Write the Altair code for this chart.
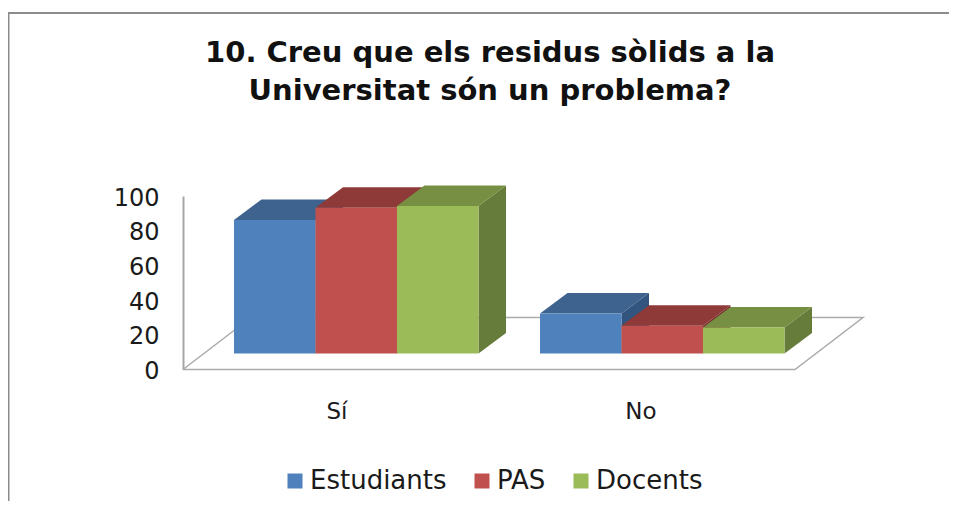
import altair as alt
import pandas as pd

# ---- values ----
categories = ["Sí", "No"]
series = ["Estudiants", "PAS", "Docents"]
estudiants = [77, 23]
pas = [84, 16]
docents = [85, 15]
title_lines = ["10. Creu que els residus sòlids a la", "Universitat són un problema?"]
tick_values = [0, 20, 40, 60, 80, 100]

front_colors = ["#4F81BD", "#C0504D", "#9BBB59"]
top_colors = ["#3E638F", "#8E3A38", "#768F43"]
side_colors = ["#32557F", "#7A2F2D", "#667C3A"]

# ---- 3-D projection in scale units (1 x unit = one bar width) ----
PX_X = 81.5              # plot pixels per x unit
PX_Y = 1.735             # plot pixels per value unit
BASE = 16 / PX_Y         # floor offset of the bars' front edge
DX = 27.5 / PX_X         # depth of bars
DY = 20.5 / PX_Y
GROUP_START = [51 / PX_X, 357 / PX_X]
LABEL_X = [154 / PX_X, 458 / PX_X]
FLOOR_DX = 68 / PX_X
FLOOR_DY = 52 / PX_Y
FLOOR_W = 612 / PX_X

rows = []
values = [estudiants, pas, docents]
face = 0
def poly(pts, fill):
    global face
    face += 1
    for x, y, y2 in pts:
        rows.append({"face": face, "x": x, "y": y, "y2": y2, "fill": fill})

for c in range(len(categories)):
    for s in range(len(series)):
        x0 = GROUP_START[c] + s
        x1 = x0 + 1
        b = BASE
        t = BASE + values[s][c]
        # side
        poly([(x1, b, t), (x1 + DX, b + DY, t + DY)], side_colors[s])
        # top
        poly([(x0, t, t), (x0 + DX, t + DY, t), (x1, t + DY, t), (x1 + DX, t + DY, t + DY)], top_colors[s])
        # front
        poly([(x0, b, t), (x1, b, t)], front_colors[s])
faces = pd.DataFrame(rows)

floor = pd.DataFrame([
    {"p": 0, "x": 0, "y": 0},
    {"p": 1, "x": FLOOR_W, "y": 0},
    {"p": 2, "x": FLOOR_W + FLOOR_DX, "y": FLOOR_DY},
    {"p": 3, "x": FLOOR_DX, "y": FLOOR_DY},
    {"p": 4, "x": 0, "y": 0},
])

x_scale = alt.Scale(domain=[0, 680 / PX_X], nice=False, zero=False)
y_scale = alt.Scale(domain=[0, 100], nice=False, zero=False)
FONT = "DejaVu Sans"
y_axis = alt.Axis(
    values=tick_values, title=None, grid=False, ticks=False, domainColor="#A6A6A6",
    domainWidth=2, labelFont=FONT, labelFontSize=24, labelColor="#1A1A1A", labelPadding=24,
    labelOffset=2, labelOverlap=False, labelBound=False, labelFlush=False)

floor_layer = alt.Chart(floor).mark_line(color="#ABABAB", strokeWidth=1.5, clip=False).encode(
    x=alt.X("x:Q", scale=x_scale, axis=None),
    y=alt.Y("y:Q", scale=y_scale, axis=y_axis),
    order="p:Q",
)

face_layer = alt.Chart(faces).mark_area(clip=False, interpolate="linear").encode(
    x=alt.X("x:Q", scale=x_scale, axis=None),
    y=alt.Y("y:Q", scale=y_scale, stack=None, axis=y_axis),
    y2="y2:Q",
    fill=alt.Fill("fill:N", scale=None),
    detail="face:N",
)

labels = pd.DataFrame({"x": LABEL_X, "y": [-24.5, -24.5], "t": categories})
label_layer = alt.Chart(labels).mark_text(font=FONT, fontSize=23, color="#1A1A1A").encode(
    x=alt.X("x:Q", scale=x_scale, axis=None),
    y=alt.Y("y:Q", scale=y_scale, axis=y_axis),
    text="t:N",
)

legend_layer = alt.Chart(pd.DataFrame({"s": series, "x": [0, 0, 0], "y": [0, 0, 0]})).mark_square(size=0, clip=False).encode(
    x=alt.X("x:Q", scale=x_scale, axis=None),
    y=alt.Y("y:Q", scale=y_scale, axis=y_axis),
    color=alt.Color("s:N", scale=alt.Scale(domain=series, range=front_colors), legend=alt.Legend(
        title=None, orient="none", legendX=99, legendY=272, direction="horizontal", columns=3,
        symbolType="square", symbolSize=225, symbolStrokeWidth=0, symbolOpacity=1,
        labelFont=FONT, labelFontSize=26, labelColor="#1A1A1A", labelOffset=2, columnPadding=22, labelLimit=300)),
)

# chart border: left and top edges
border = pd.DataFrame([
    {"p": 0, "x": -174.5 / PX_X, "y": -150 / PX_Y},
    {"p": 1, "x": -174.5 / PX_X, "y": 356.5 / PX_Y},
    {"p": 2, "x": 790 / PX_X, "y": 356.5 / PX_Y},
])
border_layer = alt.Chart(border).mark_line(color="#8C8C8C", strokeWidth=2, clip=False).encode(
    x=alt.X("x:Q", scale=x_scale, axis=None),
    y=alt.Y("y:Q", scale=y_scale, axis=y_axis),
    order="p:Q",
)

chart = alt.layer(border_layer, floor_layer, face_layer, label_layer, legend_layer).properties(
    width=680, height=173.5,
    title=alt.Title(title_lines, font=FONT, fontSize=29, fontWeight="bold", color="#111111",
                    lineHeight=38, anchor="middle", dx=-33, offset=-97),
    padding={"left": 175, "top": 188, "right": 86, "bottom": 131},
    autosize=alt.AutoSizeParams(type="none"),
    background="white",
).configure_view(stroke=None).configure_axisY(labelOverlap=False)

chart.save("out.html", embed_options={"renderer": "svg", "actions": False})
